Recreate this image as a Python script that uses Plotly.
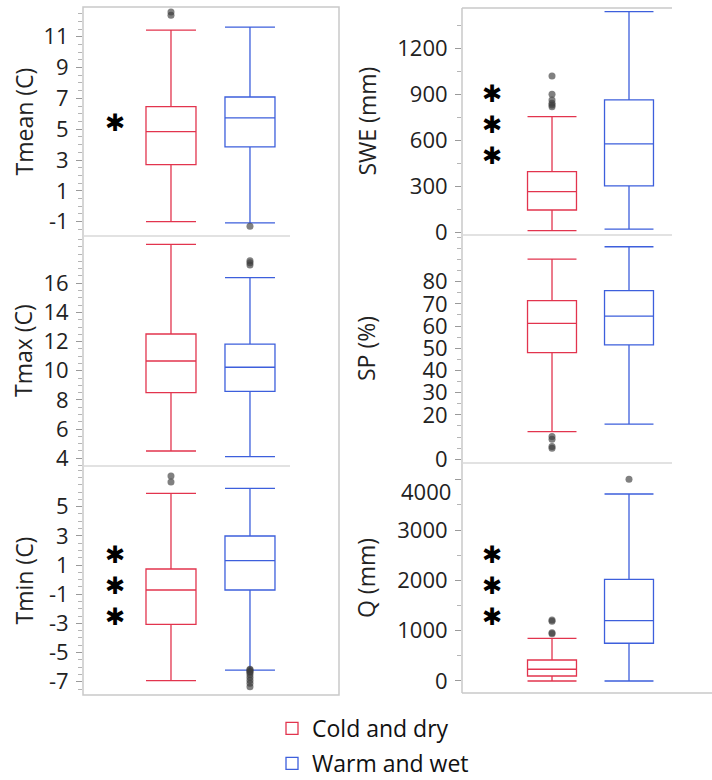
import plotly.graph_objects as go

# ---- data -------------------------------------------------------------
groups = ["Cold and dry", "Warm and wet"]
group_colors = ["#E2344E", "#3D5FDC"]
variables = ["Tmean (C)", "Tmax (C)", "Tmin (C)", "SWE (mm)", "SP (%)", "Q (mm)"]

# five-number summaries (lower whisker, Q1, median, Q3, upper whisker)
cold_lower = [-1.0, 4.5, -6.93, 10, 12.4, 0]
cold_q1 = [2.70, 8.50, -3.07, 145, 48.0, 99]
cold_median = [4.84, 10.67, -0.71, 265, 61.2, 233]
cold_q3 = [6.46, 12.52, 0.73, 395, 71.4, 417]
cold_upper = [11.43, 18.67, 5.92, 754, 90.1, 849]

warm_lower = [-1.08, 4.11, -6.20, 20, 15.8, 0]
warm_q1 = [3.85, 8.59, -0.71, 302, 51.5, 750]
warm_median = [5.73, 10.24, 1.30, 576, 64.5, 1199]
warm_q3 = [7.09, 11.82, 2.99, 863, 75.9, 2022]
warm_upper = [11.63, 16.38, 6.26, 1439, 95.7, 3718]

cold_outliers = [
    [12.4, 12.6],
    [],
    [6.7, 7.1],
    [819, 830, 841, 863, 900, 1020],
    [10.2, 9.0, 5.7, 5.0],
    [940, 960, 1190, 1213],
]
warm_outliers = [
    [-1.3],
    [17.25, 17.4, 17.55],
    [-6.15, -6.2, -6.3, -6.35, -6.5, -6.7, -6.9, -7.1, -7.35],
    [],
    [],
    [4010],
]

# significance level of the group difference, one star per level
significance = [1, 0, 3, 3, 0, 3]

# axis setup per variable
y_ranges = [[-1.93, 12.93], [3.47, 19.24], [-7.91, 7.79],
            [-18, 1463], [-1.7, 101], [-239, 4334]]
y_ticks = [
    [-1, 1, 3, 5, 7, 9, 11],
    [4, 6, 8, 10, 12, 14, 16],
    [-7, -5, -3, -1, 1, 3, 5],
    [0, 300, 600, 900, 1200],
    [0, 20, 30, 40, 50, 60, 70, 80],
    [0, 1000, 2000, 3000, 4000],
]
minor_step = [0.5, 0.5, 0.5, 150, 5, 500]
# labels nudged down (px) to stay clear of the panel edge above
label_nudge = {5: {4000: 11}}

# ---- layout geometry (pixels) ----------------------------------------
W, H = 712, 780
col_x = [(83, 339), (462, 712)]
rows_px = [[(7, 236), (236, 466), (466, 695)],
           [(8, 235), (235, 463), (463, 693)]]
x_ranges = [[-1.114, 2.127], [-1.169, 2.078]]
box_width = [0.633, 0.636]
title_x = [23, 366]
star_x = [115, 492]
star_y = [123, None, 586, 125, None, 586]


def px_x(v):
    return v / W


def px_y(v):
    return 1 - v / H


fig = go.Figure()
layout_axes = {}
annotations = []
shapes = []

border = "#C9C9C9"
sep = "#D9D9D9"
tick_font = dict(size=22, color="#222222", family="Open Sans")

for i, var in enumerate(variables):
    col = 0 if i < 3 else 1
    row = i % 3
    ax = i + 1
    xname = "x" if ax == 1 else f"x{ax}"
    yname = "y" if ax == 1 else f"y{ax}"
    top, bot = rows_px[col][row]
    x0, x1 = col_x[col]
    lo_r, hi_r = y_ranges[i]

    nudged = label_nudge.get(i, {})
    ticktext = ["" if v in nudged else str(v) for v in y_ticks[i]]

    layout_axes["xaxis" if ax == 1 else f"xaxis{ax}"] = dict(
        domain=[px_x(x0), px_x(x1)], range=x_ranges[col], anchor=yname,
        showticklabels=False, showgrid=False, zeroline=False, ticks="",
        showline=False, fixedrange=True,
    )
    layout_axes["yaxis" if ax == 1 else f"yaxis{ax}"] = dict(
        domain=[px_y(bot), px_y(top)], range=y_ranges[i], anchor=xname,
        tickvals=y_ticks[i], ticktext=ticktext,
        ticks="outside", ticklen=6, tickwidth=1,
        tickcolor="#9A9A9A", ticklabelstandoff=3,
        minor=dict(dtick=minor_step[i], tick0=0, ticks="outside", ticklen=4,
                   tickcolor="#B5B5B5", showgrid=False),
        showgrid=False, zeroline=False, showline=False,
        tickfont=tick_font, fixedrange=True, automargin=False,
    )

    for v, dy in nudged.items():
        y_px = bot - (v - lo_r) / (hi_r - lo_r) * (bot - top) + dy
        annotations.append(dict(
            x=px_x(x0 - 9), y=px_y(y_px), xref="paper", yref="paper",
            text=str(v), showarrow=False, xanchor="right", yanchor="middle",
            font=tick_font,
        ))

    stats = [
        (cold_lower, cold_q1, cold_median, cold_q3, cold_upper, cold_outliers),
        (warm_lower, warm_q1, warm_median, warm_q3, warm_upper, warm_outliers),
    ]
    for g, (lo, q1, med, q3, up, outl) in enumerate(stats):
        fig.add_trace(go.Box(
            x=[g], lowerfence=[lo[i]], q1=[q1[i]], median=[med[i]],
            q3=[q3[i]], upperfence=[up[i]],
            name=groups[g], legendgroup=groups[g], showlegend=(i == 0),
            width=box_width[col], whiskerwidth=1,
            line=dict(color=group_colors[g], width=1.3),
            fillcolor="white", boxpoints=False,
            xaxis=xname, yaxis=yname, hoverinfo="skip",
        ))
        if outl[i]:
            fig.add_trace(go.Scatter(
                x=[g] * len(outl[i]), y=outl[i], mode="markers",
                marker=dict(size=7, color="rgba(60,60,60,0.65)"),
                showlegend=False, xaxis=xname, yaxis=yname, hoverinfo="skip",
            ))

    # axis title
    annotations.append(dict(
        x=px_x(title_x[col]), y=px_y((top + bot) / 2), xref="paper", yref="paper",
        text=var, textangle=-90, showarrow=False, xanchor="center",
        yanchor="middle", font=dict(size=23, color="#222222", family="Open Sans"),
    ))

    # significance stars, stacked in one text block
    if significance[i]:
        annotations.append(dict(
            x=px_x(star_x[col]), y=px_y(star_y[i]), xref="paper", yref="paper",
            text="<br>".join(["\u2731"] * significance[i]), showarrow=False,
            xanchor="center", yanchor="middle", align="center",
            font=dict(size=24, color="black", family="DejaVu Sans"),
        ))

# frame of the left column
shapes.append(dict(type="rect", xref="paper", yref="paper",
                   x0=px_x(83), x1=px_x(339), y0=px_y(695), y1=px_y(7),
                   line=dict(color=border, width=1.5)))
for yy in (236, 466):
    shapes.append(dict(type="line", xref="paper", yref="paper",
                       x0=px_x(83), x1=px_x(290), y0=px_y(yy), y1=px_y(yy),
                       line=dict(color=sep, width=1.5)))
# frame of the right column
shapes.append(dict(type="line", xref="paper", yref="paper",
                   x0=px_x(462), x1=px_x(462), y0=px_y(693), y1=px_y(8),
                   line=dict(color=border, width=1.5)))
for yy in (8, 235, 463):
    shapes.append(dict(type="line", xref="paper", yref="paper",
                       x0=px_x(462), x1=px_x(672), y0=px_y(yy), y1=px_y(yy),
                       line=dict(color=sep if yy != 8 else border, width=1.5)))
shapes.append(dict(type="line", xref="paper", yref="paper",
                   x0=px_x(462), x1=1, y0=px_y(693), y1=px_y(693),
                   line=dict(color=border, width=1.5)))

fig.update_layout(
    width=W, height=H,
    margin=dict(l=0, r=0, t=0, b=0, pad=0, autoexpand=False),
    paper_bgcolor="white", plot_bgcolor="white",
    boxmode="overlay",
    font=dict(family="Open Sans", color="#222222"),
    legend=dict(x=px_x(272), y=px_y(707), xanchor="left", yanchor="top",
                font=dict(size=23, color="#111111", family="Open Sans"),
                itemwidth=30, tracegroupgap=2, bgcolor="rgba(0,0,0,0)"),
    annotations=annotations, shapes=shapes,
    **layout_axes,
)

fig.write_html("out.html")
